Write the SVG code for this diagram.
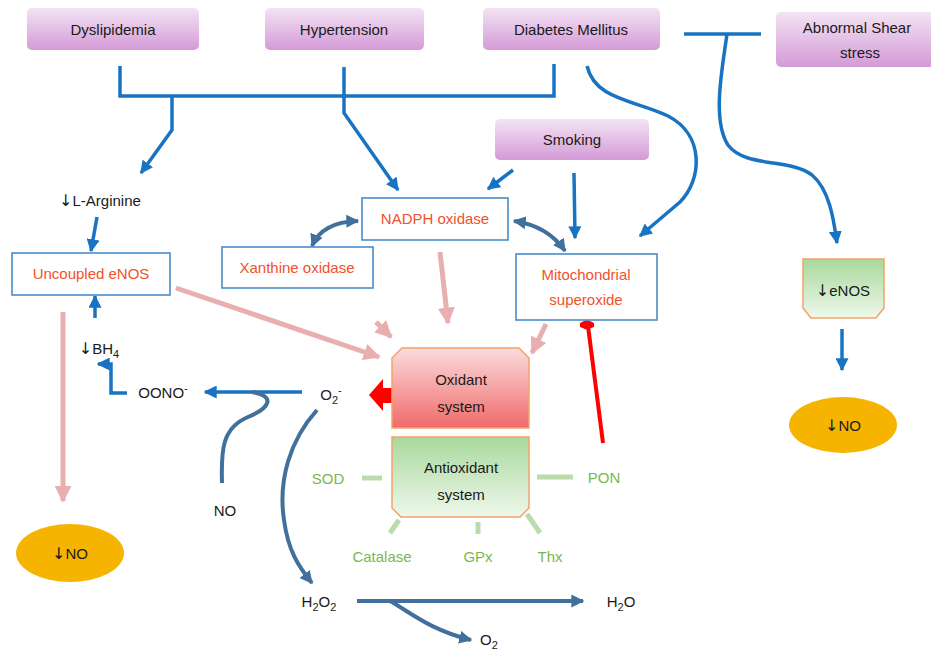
<svg xmlns="http://www.w3.org/2000/svg" width="931" height="655" viewBox="0 0 931 655">
  <defs>
    <linearGradient id="gPurple" x1="0" y1="0" x2="0" y2="1">
      <stop offset="0" stop-color="#f3e4f4"/>
      <stop offset="1" stop-color="#d49ad7"/>
    </linearGradient>
    <linearGradient id="gRed" x1="0" y1="0" x2="0" y2="1">
      <stop offset="0" stop-color="#fbdcdc"/>
      <stop offset="1" stop-color="#f06a6a"/>
    </linearGradient>
    <linearGradient id="gGreen" x1="0" y1="0" x2="0" y2="1">
      <stop offset="0" stop-color="#a9d89d"/>
      <stop offset="1" stop-color="#eef8eb"/>
    </linearGradient>
    <marker id="aBlue" markerUnits="userSpaceOnUse" viewBox="0 0 10 10" refX="9" refY="5" markerWidth="13" markerHeight="13" orient="auto">
      <path d="M0,0 L10,5 L0,10 z" fill="#1874c3"/>
    </marker>
    <marker id="aSteel" markerUnits="userSpaceOnUse" viewBox="0 0 10 10" refX="9" refY="5" markerWidth="13" markerHeight="13" orient="auto-start-reverse">
      <path d="M0,0 L10,5 L0,10 z" fill="#41709c"/>
    </marker>
    <marker id="aPink" markerUnits="userSpaceOnUse" viewBox="0 0 10 10" refX="9" refY="5" markerWidth="17" markerHeight="17" orient="auto">
      <path d="M0,0 L10,5 L0,10 z" fill="#e9aeb0"/>
    </marker>
    <style>
      text { font-family: "Liberation Sans", Arial, sans-serif; font-size: 15px; fill: #1a1a1a; text-anchor: middle; }
      .cause { fill: url(#gPurple); }
      .src { fill: #ffffff; stroke: #4a8ccc; stroke-width: 1.6; }
      .src-t { fill: #f2512a; }
      .enz { fill: #7ab84e; }
      .sub { font-size: 11px; }
      .dn { font-family: "DejaVu Sans", sans-serif; font-size: 16px; }
      .blue { fill: none; stroke: #1874c3; stroke-width: 3.5; }
      .steel { fill: none; stroke: #41709c; stroke-width: 4; }
      .pink { fill: none; stroke: #e9aeb0; stroke-width: 5; }
      .dash { fill: none; stroke: #b9dcaa; stroke-width: 5; }
      .no { fill: #f6b400; }
    </style>
  </defs>

  <rect width="931" height="655" fill="#ffffff"/>

  <!-- connectors -->
  <g id="connectors">
    <!-- risk factors merge -->
    <path class="blue" d="M120,66 V96 H554 V64"/>
    <path class="blue" d="M344,67 V113 L398,190" marker-end="url(#aBlue)"/>
    <path class="blue" d="M172,96 V130 L141,173" marker-end="url(#aBlue)"/>
    <path class="blue" d="M97,217 L91,251" marker-end="url(#aBlue)"/>
    <!-- diabetes to mitochondria -->
    <path class="blue" d="M587,66 C595,100 635,100 668,116 C705,135 702,180 680,202 L640,236" marker-end="url(#aBlue)"/>
    <!-- shear stress -->
    <path class="blue" d="M684,34 H761"/>
    <path class="blue" d="M727,34 C722,70 712,120 728,145 C745,168 790,158 812,175 C830,190 834,222 837,243" marker-end="url(#aBlue)"/>
    <!-- smoking -->
    <path class="blue" d="M513,170 L488,189" marker-end="url(#aBlue)"/>
    <path class="blue" d="M574,173 L575,238" marker-end="url(#aBlue)"/>
    <!-- eNOS to NO -->
    <path class="blue" d="M842,329 V370" marker-end="url(#aBlue)"/>
    <!-- BH4 -->
    <path class="blue" d="M95,318 V296" marker-end="url(#aBlue)"/>
    <path class="blue" d="M127,393 H111 V364 H98" marker-end="url(#aBlue)"/>
    <!-- superoxide to peroxynitrite -->
    <path class="blue" d="M302,392 H205" marker-end="url(#aBlue)"/>
    <path class="steel" d="M222,483 C221,450 222,428 248,417 C270,408 276,396 252,392"/>
    <!-- enzyme couplings -->
    <path class="steel" d="M358,221 Q322,222 312,246" marker-start="url(#aSteel)" marker-end="url(#aSteel)"/>
    <path class="steel" d="M514,221 Q548,226 565,251" marker-start="url(#aSteel)" marker-end="url(#aSteel)"/>
    <!-- dismutation -->
    <path class="steel" d="M317,410 C290,440 278,480 284,520 C288,550 298,566 312,583" marker-end="url(#aSteel)"/>
    <path class="steel" d="M357,601 H583" marker-end="url(#aSteel)"/>
    <path class="steel" d="M390,601 C410,612 430,630 471,640" marker-end="url(#aSteel)"/>
    <!-- sources into oxidant system -->
    <path class="pink" d="M176,288 L379,357" marker-end="url(#aPink)"/>
    <path class="pink" d="M376,322 L391,337" marker-end="url(#aPink)"/>
    <path class="pink" d="M440,252 L448,323" marker-end="url(#aPink)"/>
    <path class="pink" d="M546,324 L532,353" marker-end="url(#aPink)"/>
    <path class="pink" d="M63,312 V501" marker-end="url(#aPink)"/>
    <!-- antioxidant enzymes -->
    <path class="dash" d="M362,478 H382"/>
    <path class="dash" d="M537,477 H573"/>
    <path class="dash" d="M399,520 L390,533"/>
    <path class="dash" d="M478,522 V534"/>
    <path class="dash" d="M527,514 L540,533"/>
    <!-- PON inhibits mitochondrial superoxide -->
    <path d="M603,443 L588,326" fill="none" stroke="#ff0000" stroke-width="4"/>
    <path d="M580,323 Q587,318 594,323 L594,327 Q587,330 580,327 z" fill="#ff0000"/>
    <circle cx="587" cy="325" r="4.5" fill="#ff0000"/>
    <!-- oxidant system releases superoxide -->
    <polygon points="369,395 383,379 383,388 392,388 392,403 383,403 383,411" fill="#ff0000"/>
  </g>

  <!-- risk factors -->
  <g id="dyslipidemia">
    <rect class="cause" x="27" y="8" width="172" height="42" rx="5"/>
    <text x="113" y="35">Dyslipidemia</text>
  </g>
  <g id="hypertension">
    <rect class="cause" x="265" y="8" width="159" height="42" rx="5"/>
    <text x="344" y="35">Hypertension</text>
  </g>
  <g id="diabetes">
    <rect class="cause" x="483" y="8" width="177" height="42" rx="5"/>
    <text x="571" y="35">Diabetes Mellitus</text>
  </g>
  <g id="shear-stress">
    <rect class="cause" x="776" y="12" width="160" height="55" rx="5"/>
    <text x="857" y="33">Abnormal  Shear</text>
    <text x="860" y="58">stress</text>
  </g>
  <g id="smoking">
    <rect class="cause" x="495" y="119" width="154" height="41" rx="5"/>
    <text x="572" y="145">Smoking</text>
  </g>

  <!-- superoxide sources -->
  <g id="l-arginine">
    <text x="100" y="206"><tspan class="dn">↓</tspan>L-Arginine</text>
  </g>
  <g id="uncoupled-enos">
    <rect class="src" x="12" y="253" width="158" height="42"/>
    <text class="src-t" x="91" y="279">Uncoupled eNOS</text>
  </g>
  <g id="nadph-oxidase">
    <rect class="src" x="362" y="198" width="146" height="42"/>
    <text class="src-t" x="435" y="224">NADPH oxidase</text>
  </g>
  <g id="xanthine-oxidase">
    <rect class="src" x="222" y="247" width="151" height="41"/>
    <text class="src-t" x="297" y="273">Xanthine oxidase</text>
  </g>
  <g id="mitochondrial-superoxide">
    <rect class="src" x="516" y="254" width="141" height="66"/>
    <text class="src-t" x="586" y="280">Mitochondrial</text>
    <text class="src-t" x="586" y="305">superoxide</text>
  </g>

  <!-- balance -->
  <g id="oxidant-system">
    <polygon points="402,348 519,348 529,358 529,428 392,428 392,358" fill="url(#gRed)" stroke="#f3a26a" stroke-width="1.5"/>
    <text x="461" y="385">Oxidant</text>
    <text x="461" y="412">system</text>
  </g>
  <g id="antioxidant-system">
    <polygon points="392,437 529,437 529,508 520,517 401,517 392,508" fill="url(#gGreen)" stroke="#f3a26a" stroke-width="1.5"/>
    <text x="461" y="473">Antioxidant</text>
    <text x="461" y="500">system</text>
  </g>
  <g id="sod"><text class="enz" x="328" y="484">SOD</text></g>
  <g id="pon"><text class="enz" x="604" y="483">PON</text></g>
  <g id="catalase"><text class="enz" x="382" y="562">Catalase</text></g>
  <g id="gpx"><text class="enz" x="478" y="562">GPx</text></g>
  <g id="thx"><text class="enz" x="550" y="562">Thx</text></g>

  <!-- reactive species -->
  <g id="bh4">
    <text x="99" y="354"><tspan class="dn">↓</tspan>BH<tspan class="sub" dy="4">4</tspan></text>
  </g>
  <g id="oono">
    <text x="163" y="398">OONO<tspan class="sub" dy="-6">-</tspan></text>
  </g>
  <g id="superoxide">
    <text x="331" y="400">O<tspan class="sub" dy="4">2</tspan><tspan class="sub" dy="-10">-</tspan></text>
  </g>
  <g id="no">
    <text x="225" y="516">NO</text>
  </g>
  <g id="h2o2">
    <text x="319" y="607">H<tspan class="sub" dy="4">2</tspan><tspan dy="-4">O</tspan><tspan class="sub" dy="4">2</tspan></text>
  </g>
  <g id="h2o">
    <text x="621" y="607">H<tspan class="sub" dy="4">2</tspan><tspan dy="-4">O</tspan></text>
  </g>
  <g id="o2">
    <text x="489" y="645">O<tspan class="sub" dy="4">2</tspan></text>
  </g>

  <!-- nitric oxide availability -->
  <g id="enos">
    <polygon points="803,259 884,259 884,308 876,318 811,318 803,308" fill="url(#gGreen)" stroke="#f3a26a" stroke-width="1.5"/>
    <text x="843" y="296"><tspan class="dn">↓</tspan>eNOS</text>
  </g>
  <g id="no-right">
    <ellipse class="no" cx="843" cy="425" rx="54" ry="28"/>
    <text x="843" y="431"><tspan class="dn">↓</tspan>NO</text>
  </g>
  <g id="no-left">
    <ellipse class="no" cx="70" cy="553" rx="54" ry="29"/>
    <text x="70" y="559"><tspan class="dn">↓</tspan>NO</text>
  </g>
</svg>
